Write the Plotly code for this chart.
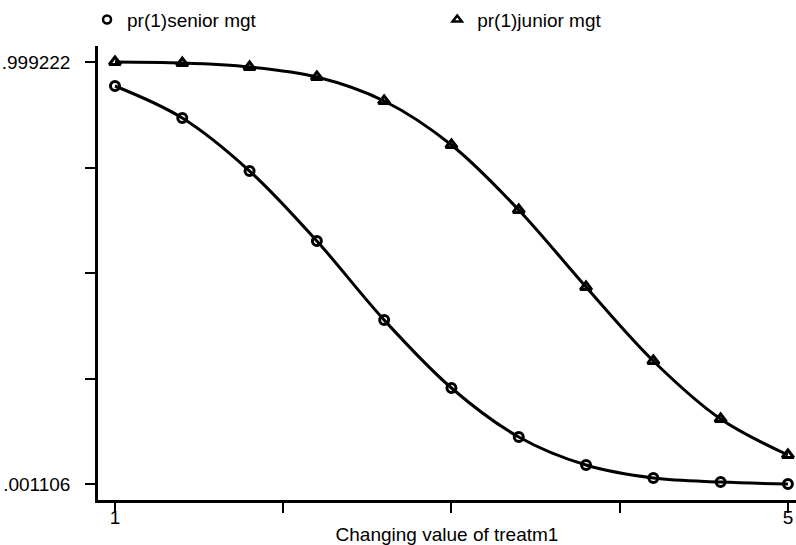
import plotly.graph_objects as go

x_vals = [1.0, 1.4, 1.8, 2.2, 2.6, 3.0, 3.4, 3.8, 4.2, 4.6, 5.0]
senior = [0.9425, 0.8668, 0.7414, 0.5758, 0.3890, 0.2282, 0.1123, 0.0460, 0.0153, 0.0058, 0.0011]
junior = [0.9992, 0.9968, 0.9874, 0.9637, 0.9070, 0.8029, 0.6492, 0.4670, 0.2920, 0.1548, 0.0697]

y_min, y_max = 0.001106, 0.999222
y_ticks = [y_min + k * (y_max - y_min) / 4 for k in range(5)]
y_ticktext = [".001106", "", "", "", ".999222"]
x_ticks = [1, 2, 3, 4, 5]
x_ticktext = ["1", "", "", "", "5"]

FONT = "Arial, Liberation Sans, sans-serif"
FS = 19

fig = go.Figure()
fig.add_trace(go.Scatter(x=x_vals, y=senior, mode="lines+markers", line=dict(color="black", width=3, shape="spline"),
                         marker=dict(symbol="circle-open", size=9, color="black", line=dict(width=3)),
                         showlegend=False))
fig.add_trace(go.Scatter(x=x_vals, y=junior, mode="lines+markers", line=dict(color="black", width=3, shape="spline"),
                         marker=dict(symbol="triangle-up-open", size=10, color="black", line=dict(width=3)),
                         showlegend=False))
fig.add_trace(go.Scatter(x=[None], y=[None], mode="markers", name="pr(1)senior mgt", legend="legend",
                         marker=dict(symbol="circle-open", size=8, color="black", line=dict(width=2.5))))
fig.add_trace(go.Scatter(x=[None], y=[None], mode="markers", name="pr(1)junior mgt", legend="legend2",
                         marker=dict(symbol="triangle-up-open", size=8, color="black", line=dict(width=2.5))))

leg_common = dict(orientation="h", yanchor="top", y=1.1, itemwidth=30,
                  font=dict(family=FONT, size=FS, color="black"), bgcolor="rgba(0,0,0,0)")

fig.update_layout(
    width=796, height=545,
    margin=dict(l=98, r=0, t=46, b=45),
    paper_bgcolor="white", plot_bgcolor="white",
    font=dict(family=FONT, size=FS, color="black"),
    legend=dict(x=-0.0157, xanchor="left", **leg_common),
    legend2=dict(x=0.486, xanchor="left", **leg_common),
    xaxis=dict(range=[0.899, 5.048], tickvals=x_ticks, ticktext=x_ticktext, ticks="outside",
               ticklen=10, tickwidth=2, tickcolor="black", showline=True, linecolor="black", linewidth=2.5,
               showgrid=False, zeroline=False, automargin=False,
               title=dict(text="Changing value of treatm1", standoff=4, font=dict(size=FS)),
               tickfont=dict(size=FS), ticklabelstandoff=-12),
    yaxis=dict(range=[-0.0367, 1.0371], tickvals=y_ticks, ticktext=y_ticktext, ticks="outside",
               ticklen=10, tickwidth=2, tickcolor="black", showline=True, linecolor="black", linewidth=2.5,
               showgrid=False, zeroline=False, automargin=False, tickfont=dict(size=FS),
               ticklabelstandoff=11),
)

fig.write_html("out.html")
